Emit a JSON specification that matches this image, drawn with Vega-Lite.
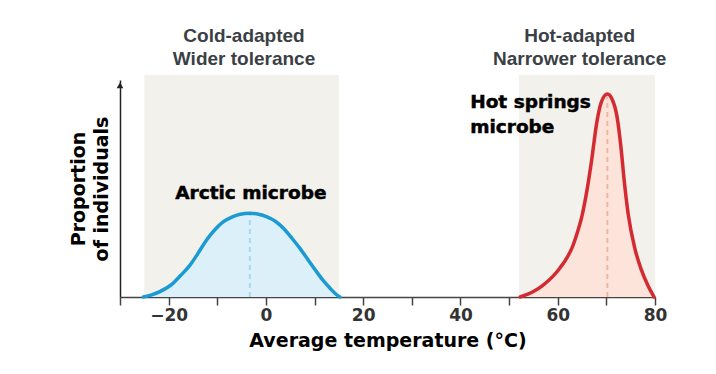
{
  "$schema": "https://vega.github.io/schema/vega-lite/v6.json",
  "width": 535,
  "height": 217,
  "autosize": {"type": "none"},
  "padding": {"left": 120, "top": 80, "right": 61, "bottom": 77},
  "background": "white",
  "config": {"view": {"stroke": null}},
  "datasets": {
    "bands": [
      {"lo": -25, "hi": 15, "bot": 0, "top": 1.023},
      {"lo": 52, "hi": 80, "bot": 0, "top": 1.023}
    ],
    "curves": [
      {"series": "Arctic", "t": -25.2, "p": 0},
      {"series": "Arctic", "t": -23.5, "p": 0.01},
      {"series": "Arctic", "t": -21.8, "p": 0.025},
      {"series": "Arctic", "t": -19.1, "p": 0.063},
      {"series": "Arctic", "t": -17.5, "p": 0.1},
      {"series": "Arctic", "t": -15.6, "p": 0.147},
      {"series": "Arctic", "t": -14, "p": 0.2},
      {"series": "Arctic", "t": -12.2, "p": 0.263},
      {"series": "Arctic", "t": -10.5, "p": 0.31},
      {"series": "Arctic", "t": -8.8, "p": 0.346},
      {"series": "Arctic", "t": -7, "p": 0.368},
      {"series": "Arctic", "t": -5.3, "p": 0.381},
      {"series": "Arctic", "t": -3.3, "p": 0.386},
      {"series": "Arctic", "t": -1.5, "p": 0.381},
      {"series": "Arctic", "t": 0.1, "p": 0.37},
      {"series": "Arctic", "t": 2, "p": 0.348},
      {"series": "Arctic", "t": 3.6, "p": 0.317},
      {"series": "Arctic", "t": 5.3, "p": 0.272},
      {"series": "Arctic", "t": 7, "p": 0.224},
      {"series": "Arctic", "t": 8.7, "p": 0.17},
      {"series": "Arctic", "t": 10.4, "p": 0.117},
      {"series": "Arctic", "t": 11.8, "p": 0.075},
      {"series": "Arctic", "t": 13.2, "p": 0.04},
      {"series": "Arctic", "t": 14.3, "p": 0.015},
      {"series": "Arctic", "t": 15.2, "p": 0},
      {"series": "Hot", "t": 52.3, "p": 0},
      {"series": "Hot", "t": 55, "p": 0.025},
      {"series": "Hot", "t": 57, "p": 0.055},
      {"series": "Hot", "t": 59, "p": 0.095},
      {"series": "Hot", "t": 60.5, "p": 0.135},
      {"series": "Hot", "t": 62, "p": 0.185},
      {"series": "Hot", "t": 63, "p": 0.23},
      {"series": "Hot", "t": 64, "p": 0.295},
      {"series": "Hot", "t": 65, "p": 0.375},
      {"series": "Hot", "t": 66, "p": 0.49},
      {"series": "Hot", "t": 67, "p": 0.635},
      {"series": "Hot", "t": 68, "p": 0.8},
      {"series": "Hot", "t": 69, "p": 0.9},
      {"series": "Hot", "t": 70.2, "p": 0.935},
      {"series": "Hot", "t": 71.2, "p": 0.91},
      {"series": "Hot", "t": 72.2, "p": 0.83},
      {"series": "Hot", "t": 73, "p": 0.69},
      {"series": "Hot", "t": 73.7, "p": 0.53},
      {"series": "Hot", "t": 74.5, "p": 0.38},
      {"series": "Hot", "t": 75.9, "p": 0.22},
      {"series": "Hot", "t": 77.2, "p": 0.125},
      {"series": "Hot", "t": 78.5, "p": 0.055},
      {"series": "Hot", "t": 79.8, "p": 0}
    ],
    "peaks": [
      {"series": "Arctic", "t": -3.3, "bot": 0, "top": 0.38},
      {"series": "Hot", "t": 70.2, "bot": 0, "top": 0.925}
    ],
    "headers": [
      {"t": -4.5, "y": 1.203, "label": "Cold-adapted"},
      {"t": -4.5, "y": 1.097, "label": "Wider tolerance"},
      {"t": 64.5, "y": 1.203, "label": "Hot-adapted"},
      {"t": 64.5, "y": 1.097, "label": "Narrower tolerance"}
    ],
    "arcticName": [
      {"t": -3.1, "y": 0.479, "label": "Arctic microbe"}
    ],
    "hotName": [
      {"t": 42, "y": 0.899, "label": "Hot springs"},
      {"t": 42, "y": 0.783, "label": "microbe"}
    ],
    "arrow": [
      {"t": -30, "y": 0.975}
    ]
  },
  "layer": [
    {
      "data": {"name": "bands"},
      "mark": {"type": "rect", "color": "#f2f1eb"},
      "encoding": {
        "x": {"field": "lo", "type": "quantitative",
              "scale": {"domain": [-30, 80], "nice": false, "zero": false},
              "axis": {
                "values": [-30, -20, -10, 0, 10, 20, 30, 40, 50, 60, 70, 80],
                "labelExpr": "datum.value % 20 == 0 ? datum.label : ''",
                "grid": false,
                "domainColor": "#444", "domainWidth": 1.5,
                "tickColor": "#444", "tickWidth": 1.5, "tickSize": 8,
                "labelFont": "DejaVu Sans", "labelFontWeight": "bold", "labelFontSize": 17,
                "labelColor": "#333", "labelPadding": 2, "labelFlush": false,
                "title": "Average temperature (°C)",
                "titleFont": "DejaVu Sans", "titleFontWeight": "bold", "titleFontSize": 19,
                "titleColor": "#000", "titlePadding": 8
              }},
        "x2": {"field": "hi"},
        "y": {"field": "bot", "type": "quantitative",
              "scale": {"domain": [0, 1], "nice": false},
              "axis": {
                "ticks": false, "labels": false, "grid": false,
                "domainColor": "#222", "domainWidth": 1.5,
                "title": ["Proportion", "of individuals"],
                "titleFont": "DejaVu Sans", "titleFontWeight": "bold", "titleFontSize": 19,
                "titleColor": "#000", "titlePadding": 9, "titleLineHeight": 23
              }},
        "y2": {"field": "top"}
      }
    },
    {
      "data": {"name": "curves"},
      "mark": {"type": "area", "interpolate": "monotone"},
      "encoding": {
        "x": {"field": "t", "type": "quantitative"},
        "y": {"field": "p", "type": "quantitative"},
        "fill": {"field": "series", "type": "nominal",
                 "scale": {"domain": ["Arctic", "Hot"], "range": ["#dcf0fa", "#fde4da"]},
                 "legend": null}
      }
    },
    {
      "data": {"name": "peaks"},
      "mark": {"type": "rule", "strokeDash": [5, 4], "strokeWidth": 2},
      "encoding": {
        "x": {"field": "t", "type": "quantitative"},
        "y": {"field": "bot", "type": "quantitative"},
        "y2": {"field": "top"},
        "stroke": {"field": "series", "type": "nominal",
                   "scale": {"domain": ["Arctic", "Hot"], "range": ["#a9d9f0", "#f2b69e"]},
                   "legend": null}
      }
    },
    {
      "data": {"name": "curves"},
      "mark": {"type": "line", "interpolate": "monotone", "strokeWidth": 3.5, "strokeCap": "round"},
      "encoding": {
        "x": {"field": "t", "type": "quantitative"},
        "y": {"field": "p", "type": "quantitative"},
        "detail": {"field": "series"},
        "color": {"field": "series", "type": "nominal",
                  "scale": {"domain": ["Arctic", "Hot"], "range": ["#1c9ad2", "#d42a32"]},
                  "legend": null}
      }
    },
    {
      "data": {"name": "headers"},
      "mark": {"type": "text", "font": "Liberation Sans", "fontWeight": "bold", "fontSize": 19, "color": "#3b4045", "baseline": "middle", "align": "center"},
      "encoding": {
        "x": {"field": "t", "type": "quantitative"},
        "y": {"field": "y", "type": "quantitative"},
        "text": {"field": "label"}
      }
    },
    {
      "data": {"name": "arcticName"},
      "mark": {"type": "text", "font": "DejaVu Sans", "fontWeight": "bold", "fontSize": 18.5, "color": "#000", "stroke": "#000", "strokeWidth": 0.5, "baseline": "middle", "align": "center"},
      "encoding": {
        "x": {"field": "t", "type": "quantitative"},
        "y": {"field": "y", "type": "quantitative"},
        "text": {"field": "label"}
      }
    },
    {
      "data": {"name": "hotName"},
      "mark": {"type": "text", "font": "DejaVu Sans", "fontWeight": "bold", "fontSize": 18.5, "color": "#000", "stroke": "#000", "strokeWidth": 0.5, "baseline": "middle", "align": "left"},
      "encoding": {
        "x": {"field": "t", "type": "quantitative"},
        "y": {"field": "y", "type": "quantitative"},
        "text": {"field": "label"}
      }
    },
    {
      "data": {"name": "arrow"},
      "mark": {"type": "point", "shape": "triangle-up", "filled": true, "size": 45, "color": "#222", "opacity": 1},
      "encoding": {
        "x": {"field": "t", "type": "quantitative"},
        "y": {"field": "y", "type": "quantitative"}
      }
    }
  ]
}
